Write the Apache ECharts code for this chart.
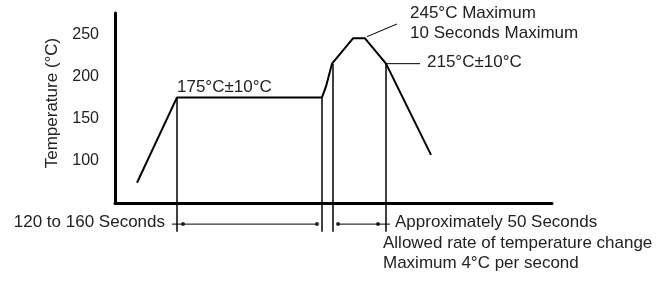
<!DOCTYPE html>
<html>
<head>
<meta charset="utf-8">
<script src="https://cdn.jsdelivr.net/npm/echarts@6/dist/echarts.min.js"></script>
<style>
  html, body { margin: 0; padding: 0; background: #fff; }
  #chart { width: 661px; height: 285px; }
</style>
</head>
<body>
<div id="chart"></div>
<script>
// time (s) / temperature (°C)
const profileTime = [22, 62, 207, 211, 217, 238, 250, 271, 316];
const profileTemp = [74, 175, 175, 188, 215, 245, 245, 215, 107];

// vertical guide lines: [time, top temp]
const guideLines = [[62, 175], [207, 175], [218, 215], [271, 215]];
const guideBottom = 16;

// dimension arrows under the axis
const dimLevel = 25;
const dimSpans = [[57, 202], [223, 275]];
const dimDots = [68, 202, 223, 263];

// leader lines
const leader245 = [[252, 247], [282, 262]];
const leader215 = [[271, 215], [305, 215]];

const yTicks = [100, 150, 200, 250];

const FONT = 'Liberation Sans, Arial, sans-serif';
const TXT = '#222';

const chart = echarts.init(document.getElementById('chart'));

const lineSeries = (data, width) => ({
  type: 'line',
  data: data,
  clip: false,
  symbol: 'none',
  silent: true,
  lineStyle: { color: '#000', width: width },
  animation: false
});

const series = [lineSeries(profileTime.map((t, i) => [t, profileTemp[i]]), 2)];
guideLines.forEach(g => series.push(lineSeries([[g[0], g[1]], [g[0], guideBottom]], 1.5)));
dimSpans.forEach(s => series.push(lineSeries([[s[0], dimLevel], [s[1], dimLevel]], 1)));
series.push(lineSeries(leader245, 1));
series.push(lineSeries(leader215, 1));
series.push({
  type: 'scatter',
  data: dimDots.map(t => [t, dimLevel]),
  clip: false,
  symbol: 'circle',
  symbolSize: 4,
  itemStyle: { color: '#000' },
  silent: true,
  animation: false
});

const text = (x, y, s, align) => ({
  type: 'text',
  x: x,
  y: y,
  style: {
    text: s,
    fill: TXT,
    font: '17px ' + FONT,
    textAlign: align || 'left',
    textVerticalAlign: 'middle'
  }
});

chart.setOption({
  animation: false,
  grid: { left: 115, right: 109, top: 13, bottom: 82 },
  xAxis: {
    type: 'value',
    min: 0,
    max: 437,
    axisLine: { show: true, lineStyle: { color: '#000', width: 3 } },
    axisTick: { show: false },
    axisLabel: { show: false },
    splitLine: { show: false }
  },
  yAxis: {
    type: 'value',
    min: 50,
    max: 275,
    interval: 50,
    name: 'Temperature (°C)',
    nameLocation: 'middle',
    nameGap: 54,
    nameTextStyle: { color: TXT, fontSize: 17, fontFamily: FONT, padding: [0, 0, 0, 10] },
    axisLine: { show: true, lineStyle: { color: '#000', width: 3 } },
    axisTick: { show: false },
    splitLine: { show: false },
    axisLabel: {
      color: TXT,
      fontSize: 16,
      fontFamily: FONT,
      margin: 16,
      formatter: v => (yTicks.includes(v) ? String(v) : '')
    }
  },
  graphic: [
    text(177, 87, '175°C±10°C'),
    text(410, 13, '245°C Maximum'),
    text(410, 33, '10 Seconds Maximum'),
    text(427, 62, '215°C±10°C'),
    text(165, 222, '120 to 160 Seconds', 'right'),
    text(395, 222, 'Approximately 50 Seconds'),
    text(383, 243, 'Allowed rate of temperature change'),
    text(383, 263, 'Maximum 4°C per second')
  ],
  series: series
});

window.addEventListener('resize', () => chart.resize());
</script>
</body>
</html>
